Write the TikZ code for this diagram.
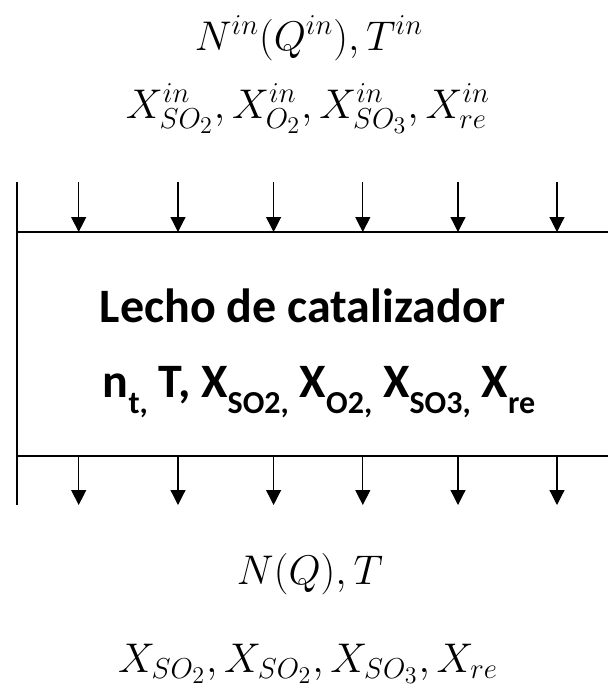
\documentclass[tikz,border=0pt]{standalone}
\usepackage{fontspec}
\newfontfamily\calib{Carlito}
\usetikzlibrary{arrows.meta}
\DeclareMathSizes{20.74}{20.74}{14.4}{12}
\newcommand\lsub[1]{\raisebox{-8pt}{\fontsize{16}{19}\selectfont #1}}
\tikzset{
  wall/.style={line width=1pt},
  flow/.style={line width=0.6pt, -{Triangle[width=7.5pt,length=7.5pt]}},
  mathtxt/.style={font=\fontsize{20.74}{25}\selectfont, anchor=base, inner sep=0pt},
  boxtxt/.style={font=\calib\bfseries\fontsize{24}{29}\selectfont, anchor=base, inner sep=0pt}
}
\begin{document}
\begin{tikzpicture}[x=0.5pt,y=-0.5pt]
\useasboundingbox (0,0) rectangle (608,691);
\coordinate (lt) at (16.5,182);
\coordinate (lb) at (16.5,505);
\coordinate (tl) at (16.5,232);
\coordinate (tr) at (608,232);
\coordinate (bl) at (16.5,456);
\coordinate (br) at (608,456);
\draw[wall] (lt) -- (lb);
\draw[wall] (tl) -- (tr);
\draw[wall] (bl) -- (br);
\foreach \i/\x in {1/78.7,2/178,3/273.6,4/362.8,5/458,6/557}{
  \coordinate (ia\i) at (\x,182);
  \coordinate (ib\i) at (\x,232);
  \coordinate (oa\i) at (\x,456);
  \coordinate (ob\i) at (\x,505);
  \draw[flow] (ia\i) -- (ib\i);
  \draw[flow] (oa\i) -- (ob\i);
}
\node[mathtxt] (nin) at (309,50) {$N^{in}(Q^{in}),T^{in}$};
\node[mathtxt] (xin) at (308,118) {$X^{in}_{SO_2},X^{in}_{O_2},X^{in}_{SO_3},X^{in}_{re}$};
\node[boxtxt] (t1) at (302.5,322) {Lecho de catalizador};
\node[boxtxt] (t2) at (319,397) {n\lsub{t,} T, X\lsub{SO2,} X\lsub{O2,} X\lsub{SO3,} X\lsub{re}};
\node[mathtxt] (nout) at (310,584) {$N(Q),T$};
\node[mathtxt] (xout) at (308,672) {$X_{SO_2},X_{SO_2},X_{SO_3},X_{re}$};
\end{tikzpicture}
\end{document}
